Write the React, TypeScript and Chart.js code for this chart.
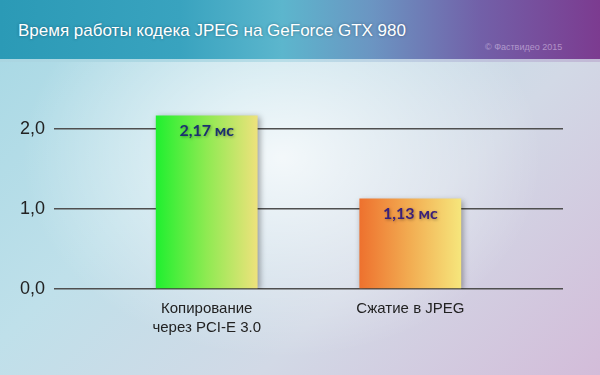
import React, { useEffect, useRef } from "react";
import { Chart, registerables } from "chart.js";

Chart.register(...registerables);

const title = "Время работы кодека JPEG на GeForce GTX 980";
const copyright = "© Фаствидео 2015";
const categories: (string | string[])[] = [["Копирование", "через PCI-E 3.0"], "Сжатие в JPEG"];
const values = [2.17, 1.13];
const valueLabels = ["2,17 мс", "1,13 мс"];
const yTicks = [0, 1, 2];
const barGradients = [
  ["#1ff02f", "#8fea52", "#eee27c"],
  ["#ee712e", "#f2ad52", "#f6e67c"],
];
const labelColors = ["#1b3070", "#3a1f7a"];

export default function App() {
  const ref = useRef<HTMLCanvasElement | null>(null);

  useEffect(() => {
    if (!ref.current) return;
    const barShadow = {
      id: "barShadow",
      beforeDatasetsDraw(chart: any) {
        const c = chart.ctx;
        c.save();
        c.shadowColor = "rgba(0,0,0,0.35)";
        c.shadowBlur = 6;
        c.shadowOffsetX = 2;
        c.shadowOffsetY = 2;
      },
      afterDatasetsDraw(chart: any) {
        const c = chart.ctx;
        c.restore();
        const meta = chart.getDatasetMeta(0);
        c.save();
        c.font = "bold 16px Lato, 'Open Sans', sans-serif";
        c.textAlign = "center";
        c.textBaseline = "middle";
        c.shadowColor = "rgba(0,0,0,0.35)";
        c.shadowBlur = 3;
        c.shadowOffsetX = 1;
        c.shadowOffsetY = 1;
        meta.data.forEach((el: any, i: number) => {
          c.fillStyle = labelColors[i];
          c.fillText(valueLabels[i], el.x, el.y + 15);
        });
        c.restore();
      },
    };

    const chart = new Chart(ref.current, {
      type: "bar",
      data: {
        datasets: [
          {
            data: values.map((v, i) => ({ x: i, y: v })),
            barPercentage: 0.5,
            categoryPercentage: 1,
            borderWidth: 0,
            backgroundColor: (ctx: any) => {
              const chart = ctx.chart;
              const xs = chart.scales.x;
              const idx = ctx.dataIndex ?? 0;
              const cols = barGradients[idx % barGradients.length];
              if (!xs) return cols[1];
              const cx = xs.getPixelForValue(idx);
              const unit = Math.abs(xs.getPixelForValue(1) - xs.getPixelForValue(0));
              if (!isFinite(cx) || !isFinite(unit) || unit === 0) return cols[1];
              const half = unit * 0.25;
              const g = chart.ctx.createLinearGradient(cx - half, 0, cx + half, 0);
              g.addColorStop(0, cols[0]);
              g.addColorStop(0.5, cols[1]);
              g.addColorStop(1, cols[2]);
              return g;
            },
          },
        ],
      },
      options: {
        animation: false,
        responsive: false,
        maintainAspectRatio: false,
        layout: { padding: { left: 0, right: 37, top: 89, bottom: 0 } },
        plugins: { legend: { display: false }, tooltip: { enabled: false } },
        scales: {
          x: {
            type: "linear",
            offset: false,
            min: -0.75,
            max: categories.length - 0.25,
            grid: { display: false, drawTicks: false, offset: false },
            border: { display: false },
            afterBuildTicks: (scale: any) => {
              scale.ticks = categories.map((_, i) => ({ value: i }));
            },
            afterFit: (scale: any) => {
              scale.height = 86;
            },
            ticks: {
              autoSkip: false,
              maxRotation: 0,
              padding: 10,
              color: "#222",
              font: { family: "'Liberation Sans', Arial, sans-serif", size: 15, lineHeight: 1.27 },
              callback: (v: any) => categories[Number(v)] as any,
            },
          },
          y: {
            min: 0,
            max: 2.5,
            afterBuildTicks: (scale: any) => {
              scale.ticks = yTicks.map((v) => ({ value: v }));
            },
            afterFit: (scale: any) => {
              scale.width = 54;
            },
            grid: { color: "#4f4f4f", lineWidth: 1.5, drawTicks: false },
            border: { display: false },
            ticks: {
              padding: 9,
              color: "#222",
              font: { family: "'Liberation Sans', Arial, sans-serif", size: 18 },
              callback: (v: any) => Number(v).toFixed(1).replace(".", ","),
            },
          },
        },
      },
      plugins: [barShadow],
    } as any);
    return () => chart.destroy();
  }, []);

  return (
    <div
      style={{
        position: "absolute",
        left: 0,
        top: 0,
        width: 600,
        height: 375,
        overflow: "hidden",
        background:
          "radial-gradient(ellipse 260px 200px at 47% 42%, rgba(255,255,255,0.8) 0%, rgba(255,255,255,0) 100%), linear-gradient(135deg, #a6d8e4 0%, #bfe0ea 35%, #d2d9e6 65%, #d3bcd9 100%)",
      }}
    >
      <div
        style={{
          position: "absolute",
          left: 0,
          top: 0,
          width: 600,
          height: 59,
          background:
            "linear-gradient(90deg, #2b9ab6 0%, #39a3bf 30%, #5cb6cd 47%, #6b95c2 62%, #7260a8 80%, #7c3b90 100%)",
          borderBottom: "3px solid rgba(225,240,244,0.7)",
        }}
      >
        <div
          style={{
            position: "absolute",
            left: 18,
            top: 21,
            color: "#fff",
            fontFamily: "'Liberation Sans', Arial, sans-serif",
            fontSize: 17,
            lineHeight: "20px",
            whiteSpace: "nowrap",
            textShadow: "0 0 3px rgba(0,40,60,0.45)",
          }}
        >
          {title}
        </div>
        <div
          style={{
            position: "absolute",
            left: 485,
            top: 42,
            color: "rgba(235,220,245,0.5)",
            fontFamily: "'Liberation Sans', Arial, sans-serif",
            fontSize: 9,
            lineHeight: "10px",
            whiteSpace: "nowrap",
          }}
        >
          {copyright}
        </div>
      </div>
      <canvas ref={ref} width={600} height={375} style={{ position: "absolute", left: 0, top: 0 }} />
    </div>
  );
}
